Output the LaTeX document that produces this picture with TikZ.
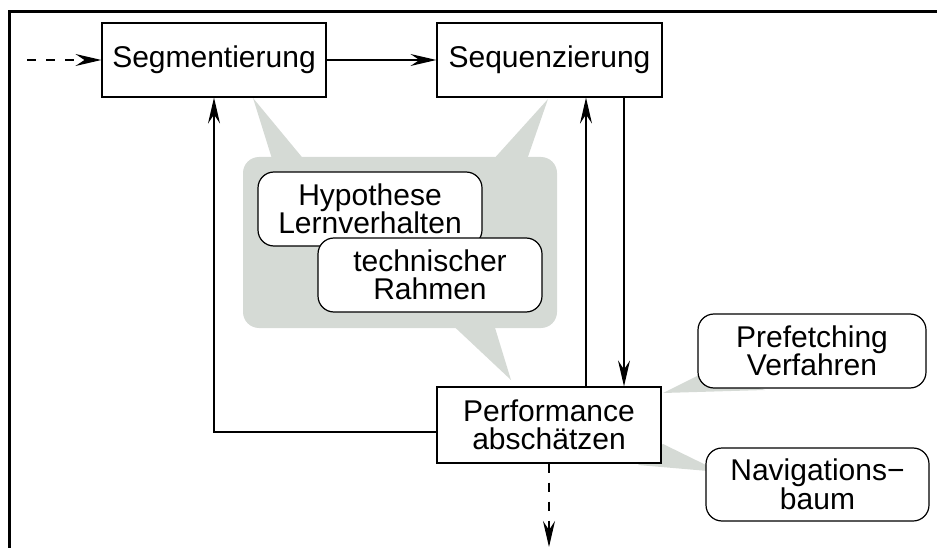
\documentclass[tikz,border=0pt]{standalone}
\usepackage{fontspec}
\setmainfont{Liberation Sans}
\usetikzlibrary{arrows.meta}
\definecolor{calloutgray}{RGB}{213,218,213}
\tikzset{
  every node/.style={font=\fontsize{30}{28.5}\selectfont, align=center, inner sep=0pt},
  stepbox/.style={draw, line width=1.2pt, fill=white, minimum width=224pt, minimum height=75pt},
  notebox/.style={draw, line width=1.2pt, fill=white, rounded corners=16pt, minimum width=224pt, minimum height=74pt},
  flow/.style={line width=1.2pt, -{Stealth[length=26pt,width=12pt,inset=9pt]}},
  wedge/.style={fill=calloutgray, draw=none}
}
\begin{document}
\begin{tikzpicture}[x=1pt, y=-1pt]
\useasboundingbox (0,0) rectangle (937,548);

% outer frame (top and left edges)
\draw[line width=3pt] (9,548) -- (9,12) -- (937,12);

% grey callout area with its pointers
\fill[calloutgray, rounded corners=16pt] (243,157) rectangle (557,328);
\fill[wedge] (253,98) -- (273,162) -- (306,162) -- cycle;
\fill[wedge] (548,99) -- (482,172) -- (522,174) -- cycle;
\fill[wedge] (445,318) -- (492,318) -- (511,380) -- cycle;
\fill[wedge] (663,393) -- (705,372) -- (765,390) -- cycle;
\fill[wedge] (663,444) -- (708,466) -- (708,471) -- (638,465) -- cycle;

% process steps
\node[stepbox, minimum width=224pt, minimum height=74pt] (seg) at (214,60) {Segmentierung};
\node[stepbox, minimum width=225pt, minimum height=74pt] (seq) at (549.5,60) {Sequenzierung};
\node[stepbox, minimum width=224pt, minimum height=76pt] (perf) at (549,425) {Performance\\abschätzen};

% notes
\node[notebox] (hyp) at (370,209) {Hypothese\\Lernverhalten};
\node[notebox] (tech) at (430,275) {technischer\\Rahmen};
\node[notebox, minimum width=228pt] (pref) at (812,351) {Prefetching\\Verfahren};
\node[notebox, minimum width=223pt, minimum height=73pt] (nav) at (817.5,484.5) {Navigations−\\baum};

% connectors
\coordinate (in) at (27,60);
\coordinate (out) at (549,547);
\draw[flow, dash pattern=on 9pt off 10pt] (in) -- (seg.west);
\draw[flow] (seg.east) -- (seq.west);
\draw[flow] (perf.north -| 586,0) -- (seq.south -| 586,0);
\draw[flow] (seq.south -| 624,0) -- (perf.north -| 624,0);
\draw[flow] ([yshift=-7pt]perf.west) -| (seg.south);
\draw[flow, dash pattern=on 9pt off 10pt] (perf.south) -- (out);
\end{tikzpicture}
\end{document}
